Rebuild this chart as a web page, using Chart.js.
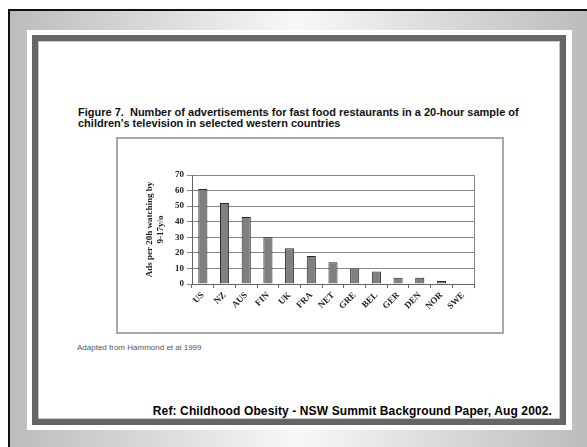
<!DOCTYPE html>
<html>
<head>
<meta charset="utf-8">
<script src="https://cdn.jsdelivr.net/npm/chart.js@4.4.1/dist/chart.umd.min.js"></script>
<style>
  html, body { margin: 0; padding: 0; }
  body { width: 587px; height: 447px; position: relative; overflow: hidden; background: #fff; font-family: "Liberation Sans", Arial, sans-serif; }
  .frame { position: absolute; left: 8px; top: 9px; right: 0; bottom: 0;
           border-left: 2px solid #111; border-top: 2px solid #111;
           background: linear-gradient(to right, #bcbcbc 0%, #f8f8f8 50%, #bcbcbc 100%); }
  .panel { position: absolute; left: 27px; top: 30px; width: 545px; height: 400px; background: #fff; }
  .inner { position: absolute; left: 32px; top: 35px; width: 534px; height: 390px; box-sizing: border-box;
           border: 6px solid #666; box-shadow: inset 0 0 0 1px #c8c8c8; background: #fff; }
  .title { position: absolute; left: 78px; top: 107px; font-size: 11px; line-height: 11px; font-weight: bold; color: #111; white-space: pre; }
  .box { position: absolute; left: 116px; top: 137px; width: 388px; height: 197px; box-sizing: border-box; border: 2px solid #a8a8a8; }
  .box canvas { position: absolute; left: 0; top: 0; }
  .note { position: absolute; left: 77px; top: 343px; font-size: 8px; color: #555; white-space: pre; }
  .ref { position: absolute; right: 35px; top: 404px; font-size: 12px; letter-spacing: 0.12px; font-weight: bold; color: #000; white-space: pre; }
</style>
</head>
<body>
<div class="frame"></div>
<div class="panel"></div>
<div class="inner"></div>
<div class="title">Figure 7.  Number of advertisements for fast food restaurants in a 20-hour sample of
children's television in selected western countries</div>
<div class="box"><canvas id="c" width="384" height="193"></canvas></div>
<div class="note">Adapted from Hammond et al 1999</div>
<div class="ref">Ref: Childhood Obesity - NSW Summit Background Paper, Aug 2002.</div>
<script>
// Countries and advertisement counts per 20 hours of children's TV
const countries = ["US", "NZ", "AUS", "FIN", "UK", "FRA", "NET", "GRE", "BEL", "GER", "DEN", "NOR", "SWE"];
const adsPer20h = [61, 52, 43, 30, 23, 18, 14, 10, 8, 4, 4, 2, 0];
const yTicks = [0, 10, 20, 30, 40, 50, 60, 70];
const yTitleLines = ["Ads per 20h watching by", "9-17y/o"];

// Outline the right edge of the plot area
const plotBorder = {
  id: 'plotBorder',
  afterDraw(chart) {
    const a = chart.chartArea, ctx = chart.ctx;
    ctx.save();
    ctx.strokeStyle = '#888';
    ctx.lineWidth = 1;
    ctx.beginPath();
    ctx.moveTo(Math.round(a.right) + 0.5, a.top);
    ctx.lineTo(Math.round(a.right) + 0.5, a.bottom);
    ctx.stroke();
    ctx.restore();
  }
};

const serif = { family: '"Liberation Serif", "Times New Roman", serif', size: 9, weight: 'bold' };

new Chart(document.getElementById('c'), {
  type: 'bar',
  data: {
    labels: countries,
    datasets: [{
      data: adsPer20h,
      backgroundColor: '#808080',
      borderColor: '#2a2a2a',
      borderWidth: 1,
      barPercentage: 0.42,
      categoryPercentage: 1.0
    }]
  },
  options: {
    responsive: false,
    animation: false,
    events: [],
    layout: { padding: { top: 36, right: 28, bottom: 0, left: 0 } },
    plugins: { legend: { display: false }, tooltip: { enabled: false } },
    scales: {
      x: {
        offset: true,
        grid: { offset: true, drawOnChartArea: false, drawTicks: true, tickLength: 4, color: '#666', lineWidth: 1 },
        border: { color: '#666', width: 1 },
        ticks: { color: '#222', font: serif, minRotation: 45, maxRotation: 45, padding: 2 },
        afterFit(s) { s.height = 48; }
      },
      y: {
        min: 0, max: 70,
        afterBuildTicks(s) { s.ticks = yTicks.map(v => ({ value: v })); },
        grid: { color: '#888', lineWidth: 1, tickLength: 5, drawTicks: true },
        border: { color: '#666', width: 1 },
        ticks: { color: '#222', font: serif, padding: 3 },
        title: { display: true, text: yTitleLines, color: '#222', font: serif, padding: { top: 26, bottom: 0 } },
        afterFit(s) { s.width = 74; }
      }
    }
  },
  plugins: [plotBorder]
});
</script>
</body>
</html>
